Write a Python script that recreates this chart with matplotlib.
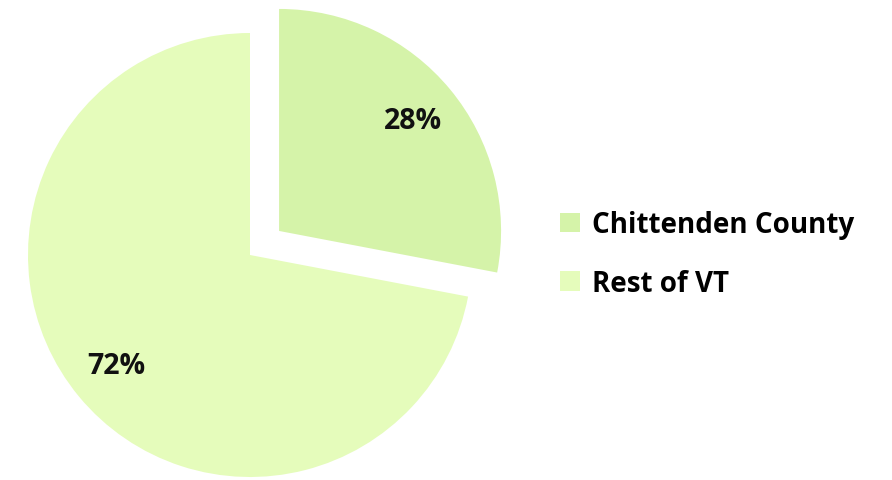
import matplotlib.pyplot as plt
from matplotlib.patches import Patch

labels = ["Chittenden County", "Rest of VT"]
shares = [28, 72]
colors = ["#d5f3a9", "#e5fcbb"]

plt.rcParams["font.family"] = ["Open Sans", "DejaVu Sans"]

fig = plt.figure(figsize=(8.92, 4.81), dpi=100)
ax = fig.add_axes([0, 0, 1, 1])

wedges, texts, autotexts = ax.pie(
    shares,
    colors=colors,
    startangle=90,
    counterclock=False,
    explode=[0.17, 0],
    autopct="%d%%",
    pctdistance=0.78,
    textprops={"fontsize": 20.5, "fontweight": "bold", "color": "#111111"},
)

ax.set_aspect("auto")
ax.set_xlim(-250 / 222, (892 - 250) / 222)
ax.set_ylim(-(481 - 256) / 222, 256 / 222)
ax.axis("off")

handles = [Patch(facecolor=c, edgecolor="none") for c in colors]
ax.legend(
    handles, labels,
    loc="center left",
    bbox_to_anchor=(0.6, 0.47),
    frameon=False,
    handlelength=0.7,
    handleheight=0.7,
    handletextpad=0.45,
    labelspacing=1.05,
    prop={"size": 20, "weight": "bold"},
)

fig.savefig("out.png", dpi=100)
